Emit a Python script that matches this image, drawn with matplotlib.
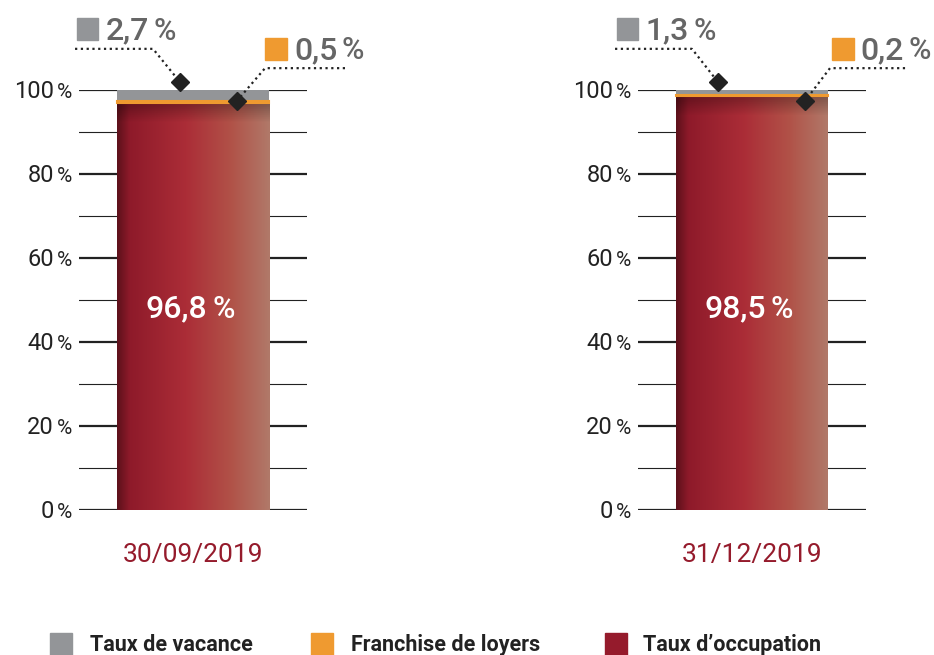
import numpy as np
import matplotlib
matplotlib.use("Agg")
import matplotlib.pyplot as plt
from matplotlib.colors import LinearSegmentedColormap
from matplotlib.patches import Rectangle

plt.rcParams['font.family'] = ['Roboto', 'DejaVu Sans']

# data
dates = ["30/09/2019", "31/12/2019"]
occupation = [96.8, 98.5]
franchise = [0.5, 0.2]
vacance = [2.7, 1.3]
occupation_labels = ["96,8", "98,5"]
franchise_labels = ["0,5", "0,2"]
vacance_labels = ["2,7", "1,3"]
yticks = [0, 20, 40, 60, 80, 100]
legend_labels = ["Taux de vacance", "Franchise de loyers", "Taux d\u2019occupation"]

GRAY = "#939598"
ORANGE = "#ef9a30"
RED = "#951b2c"
TXT = "#666666"

fig = plt.figure(figsize=(9.34, 6.55), dpi=100)


def num_pct(ax, x, y, num, fs, pfs, color, ha="left", weight="normal", z=6, gap=0.03):
    # number followed by a smaller percent sign, sharing the baseline
    t = ax.text(x, y, num, ha=ha, va="baseline", fontsize=fs, color=color,
                fontweight=weight, clip_on=False, zorder=z)
    fig.canvas.draw()
    bb = t.get_window_extent().transformed(ax.transData.inverted())
    ax.text(bb.x1 + gap, y, "%", ha="left", va="baseline", fontsize=pfs,
            color=color, fontweight=weight, clip_on=False, zorder=z)


# gradient for the red segment
grad = LinearSegmentedColormap.from_list(
    "occ", [(0.0, "#5e111b"), (0.08, "#8e1a2a"), (0.45, "#ab2d37"),
            (0.75, "#b15248"), (1.0, "#b07969")])
nx, ny = 200, 200
h = grad(np.linspace(0, 1, nx))[:, :3]
img = np.tile(h[None, :, :], (ny, 1, 1))
shade = np.ones(ny)
shade[:10] = 0.72 + 0.28 * np.linspace(0, 1, 10)
img = img * shade[:, None, None]

# positions of annotation pieces (axes data coords), per panel
vac_line_x = [(-0.776, -0.263, -0.086), (-0.901, -0.395, -0.224)]
fr_line_x = [(1.00, 0.474, 0.289), (1.007, 0.513, 0.349)]
vac_sq_x = [-0.763, -0.888]
fr_sq_x = [0.474, 0.526]

lefts = [79 / 934, 638 / 934]
for i in range(2):
    ax = fig.add_axes([lefts[i], 145 / 655, 228 / 934, 420 / 655])
    ax.set_xlim(-0.75, 0.75)
    ax.set_ylim(0, 100)
    ax.axis("off")

    for y in range(0, 101, 10):
        major = y % 20 == 0
        ax.axhline(y, color="#222222", lw=1.6 if major else 0.8, zorder=1)

    occ = occupation[i]
    fr = franchise[i]
    vac = vacance[i]
    rect = Rectangle((-0.5, 0), 1.0, occ, facecolor=RED, edgecolor="none", zorder=2)
    ax.add_patch(rect)
    im = ax.imshow(img, extent=[-0.5, 0.5, 0, occ], aspect="auto", origin="upper", zorder=3)
    im.set_clip_path(rect)
    ax.bar(0, vac, bottom=occ + fr, width=1.0, color=GRAY, zorder=3)
    ax.bar(0, fr, bottom=occ, width=1.0, color=ORANGE, edgecolor=ORANGE,
           lw=1.5, zorder=4)
    ax.set_xlim(-0.75, 0.75)
    ax.set_ylim(0, 100)

    for t in yticks:
        ax.text(-0.914, t - 1.9, str(t), ha="right", va="baseline", fontsize=17,
                color="#222222", clip_on=False)
        ax.text(-0.895, t - 1.9, "%", ha="left", va="baseline", fontsize=15,
                color="#222222", clip_on=False)

    num_pct(ax, -0.31, 45.8, occupation_labels[i], 23, 22, "white",
            weight="medium", z=5)

    ax.text(0, -10.7, dates[i], ha="center", va="center", fontsize=19,
            color=RED, clip_on=False)

    # vacance annotation
    x0, x1, x2 = vac_line_x[i]
    ax.plot([x0, x1, x2], [109.8, 109.8, 101.9], color="#222222", lw=1.6,
            linestyle=(0, (1, 1.6)), clip_on=False, zorder=6)
    ax.plot([x2], [101.9], marker="D", ms=9.5, color="#222222", clip_on=False, zorder=7)
    ax.add_patch(Rectangle((vac_sq_x[i], 111.9), 0.138, 5.2, color=GRAY, clip_on=False))
    num_pct(ax, vac_sq_x[i] + 0.19, 112.0, vacance_labels[i], 23, 22, TXT,
            weight="medium")
    # franchise annotation
    x0, x1, x2 = fr_line_x[i]
    ax.plot([x0, x1, x2], [105.2, 105.2, 97.4], color="#222222", lw=1.6,
            linestyle=(0, (1, 1.6)), clip_on=False, zorder=6)
    ax.plot([x2], [97.4], marker="D", ms=9.5, color="#222222", clip_on=False, zorder=7)
    ax.add_patch(Rectangle((fr_sq_x[i], 107.1), 0.144, 5.3, color=ORANGE, clip_on=False))
    num_pct(ax, fr_sq_x[i] + 0.19, 107.3, franchise_labels[i], 23, 22, TXT,
            weight="medium")

# legend
leg_sq = [50, 311, 605]
leg_txt = [90, 351, 643]
colors = [GRAY, ORANGE, RED]
for sx, tx, c, lab in zip(leg_sq, leg_txt, colors, legend_labels):
    fig.patches.append(Rectangle((sx / 934, 0), 22 / 934, 22 / 655, color=c,
                                 transform=fig.transFigure, figure=fig))
    fig.text(tx / 934, 4 / 655, lab, ha="left", va="baseline", fontsize=15.5,
             fontweight="bold", color="#222222")

fig.savefig("out.png", dpi=100)
